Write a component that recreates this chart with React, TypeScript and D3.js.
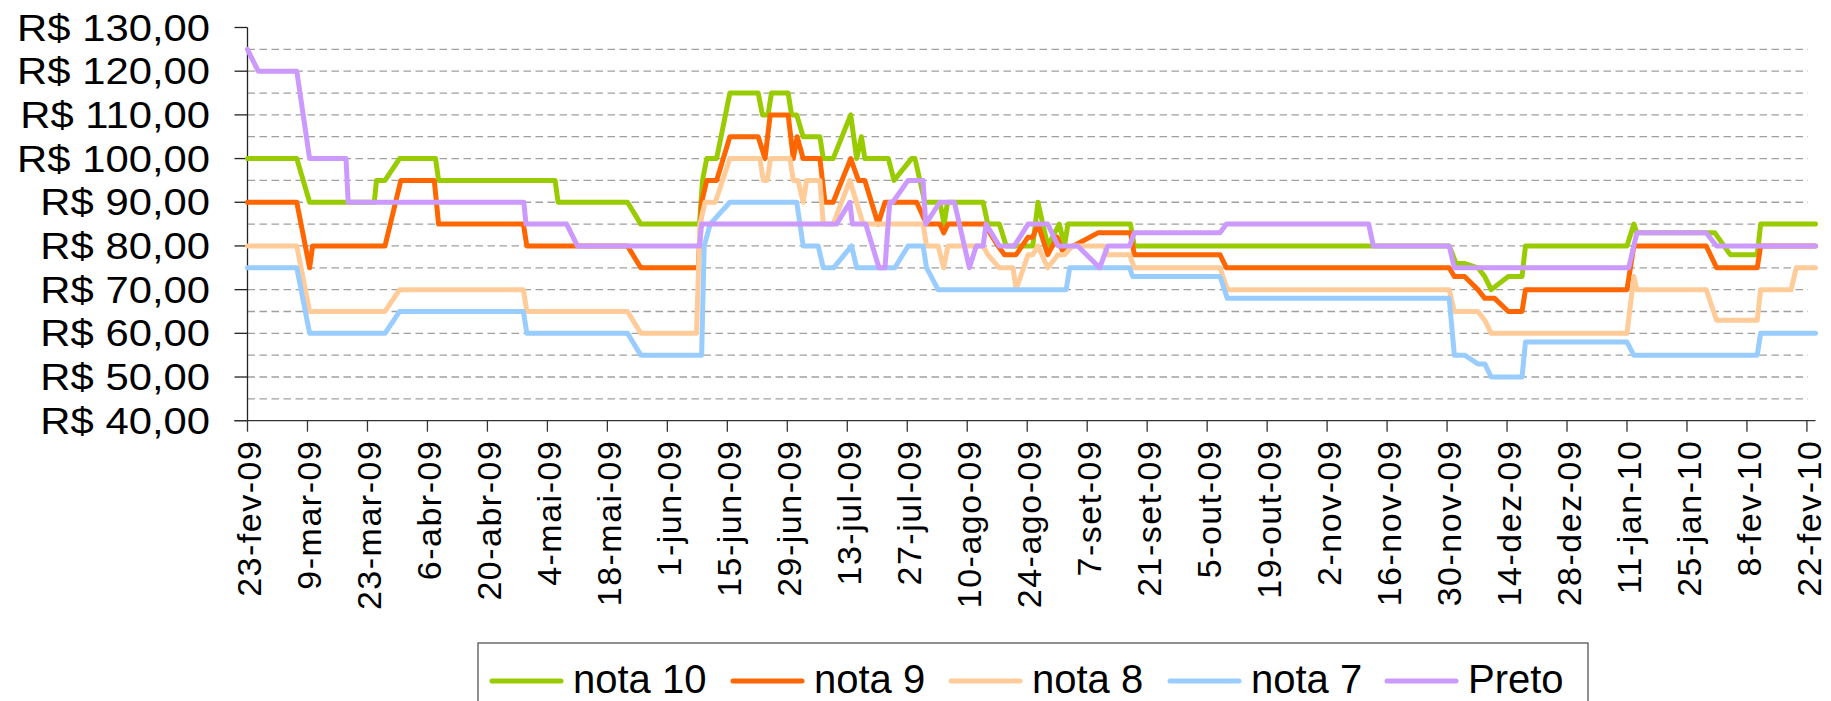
import * as d3 from "d3";

// ── Data ──────────────────────────────────────────────────────────────────────
// Days are counted from 23-fev-09; values are prices in R$.

const xTickLabels = [
  "23-fev-09", "9-mar-09", "23-mar-09", "6-abr-09", "20-abr-09", "4-mai-09",
  "18-mai-09", "1-jun-09", "15-jun-09", "29-jun-09", "13-jul-09", "27-jul-09",
  "10-ago-09", "24-ago-09", "7-set-09", "21-set-09", "5-out-09", "19-out-09",
  "2-nov-09", "16-nov-09", "30-nov-09", "14-dez-09", "28-dez-09", "11-jan-10",
  "25-jan-10", "8-fev-10", "22-fev-10",
];
const TICK_STEP_DAYS = 14;
const LAST_DAY = 366;

const yTicks = [40, 50, 60, 70, 80, 90, 100, 110, 120, 130];
const yGrid = [45, 50, 55, 60, 65, 70, 75, 80, 85, 90, 95, 100, 105, 110, 115, 120, 125];

const seriesNames = ["nota 10", "nota 9", "nota 8", "nota 7", "Preto"];
const seriesColors = ["#99CC00", "#FF6600", "#FFCC99", "#99CCFF", "#CC99FF"];

const nota10: [number, number][] = [
  [0, 100], [11.5, 100], [14.5, 90], [29.6, 90], [30.1, 95], [32.1, 95], [35.5, 100],
  [43.9, 100], [44.6, 95], [71.8, 95], [72.5, 90], [88.7, 90], [91.8, 85], [105.5, 85],
  [106.2, 95], [107.2, 100], [109.5, 100], [112.6, 115], [119.2, 115], [120.2, 110],
  [121.5, 110], [122.3, 115], [126.2, 115], [127, 110], [128.2, 110], [129.7, 105],
  [133.6, 105], [134.4, 100], [136.7, 100], [140.8, 110], [142.2, 100], [143.3, 105],
  [144.1, 100], [149.6, 100], [150.9, 95], [155, 100], [155.8, 100], [158.1, 90],
  [161.6, 90], [162.6, 85], [163.4, 90], [171.7, 90], [172.8, 85], [175.5, 85],
  [177.1, 80], [183.3, 80], [184.5, 90], [186.8, 80], [189.5, 85], [190.7, 80],
  [191.5, 85], [206.1, 85], [207, 80], [280.5, 80], [282.1, 76], [284, 76], [287.2, 75],
  [288.8, 73], [290.3, 70], [294.3, 73], [297.5, 73], [298.3, 80], [322, 80], [323.6, 85],
  [324.3, 83], [342.5, 83], [346.1, 78], [352.4, 78], [353.2, 85], [366, 85],
];

const nota9: [number, number][] = [
  [0, 90], [11.5, 90], [14.5, 75], [15.2, 80], [32.1, 80], [35.8, 95], [43.6, 95],
  [44.6, 85], [64.4, 85], [65.2, 80], [88.7, 80], [91.8, 75], [105.2, 75], [106, 90],
  [107.2, 95], [109.5, 95], [112.6, 105], [119.2, 105], [120.8, 100], [122, 110],
  [126.2, 110], [127.4, 100], [128.3, 105], [129.7, 100], [133.6, 100], [134.8, 90],
  [136.7, 90], [140.8, 100], [142.6, 95], [144.1, 95], [147.2, 85], [148.8, 90],
  [156.2, 90], [158.5, 85], [161.6, 85], [162.5, 83], [163.5, 85], [172, 85], [175.2, 80],
  [176.7, 78], [179.4, 78], [182.2, 82], [183.3, 82], [184.5, 85], [186.8, 78], [189, 82],
  [190.2, 79], [192.8, 80], [198.5, 83], [206.1, 83], [207, 78], [227, 78], [228.5, 75],
  [280.5, 75], [281.7, 73], [284.1, 73], [287.2, 70], [288.8, 68], [291.1, 68],
  [294.3, 65], [297.5, 65], [298.3, 70], [322, 70], [323.6, 80], [340.5, 80], [342.9, 75],
  [352.4, 75], [353.2, 80], [366, 80],
];

const nota8: [number, number][] = [
  [0, 80], [11.5, 80], [14.5, 65], [32.1, 65], [35.5, 70], [64.4, 70], [65.2, 65],
  [88.7, 65], [91.8, 60], [104.8, 60], [105.6, 85], [106.8, 90], [109.2, 90], [112.6, 100],
  [119.6, 100], [120.4, 95], [121.3, 95], [122.1, 100], [126.6, 100], [127.4, 95],
  [128.5, 95], [129.7, 90], [130.5, 95], [133.6, 95], [134.4, 85], [136.7, 85],
  [140.6, 95], [143.7, 85], [157.7, 85], [158.5, 80], [161.2, 80], [162.5, 75],
  [163.5, 80], [171.7, 80], [172.8, 78], [175.5, 75], [178.7, 75], [179.4, 70],
  [182.2, 78], [183.3, 78], [184.5, 80], [186.8, 75], [189.2, 78], [190.7, 78],
  [192.6, 80], [200, 80], [200.8, 78], [205.9, 78], [207, 75], [227, 75], [228.7, 70],
  [280.5, 70], [281.7, 65], [287.2, 65], [288.8, 63], [290.3, 60], [322, 60], [323.6, 73],
  [324.3, 70], [340.5, 70], [342.9, 63], [352.4, 63], [353.2, 70], [360.3, 70],
  [361.5, 75], [366, 75],
];

const nota7: [number, number][] = [
  [0, 75], [11.5, 75], [14.5, 60], [32.1, 60], [35.5, 65], [64.4, 65], [65.2, 60],
  [88.7, 60], [91.8, 55], [106, 55], [106.6, 80], [108, 85], [112.6, 90], [128.2, 90],
  [129.7, 80], [133.2, 80], [134.4, 75], [136.8, 75], [141, 80], [142.2, 75], [151.1, 75],
  [154.2, 80], [157.7, 80], [158.5, 75], [161.2, 70], [191.1, 70], [191.9, 75],
  [205.9, 75], [206.6, 73], [227, 73], [228.7, 68], [280.5, 68], [281.7, 55], [284.1, 55],
  [287.2, 53], [288.8, 53], [290.3, 50], [297.5, 50], [298.3, 58], [322, 58], [323.6, 55],
  [352.4, 55], [353.2, 60], [366, 60],
];

const preto: [number, number][] = [
  [0, 125], [2.5, 120], [11.5, 120], [14.5, 100], [23, 100], [23.5, 90], [64.5, 90],
  [65, 85], [74.5, 85], [77, 80], [105.5, 80], [106, 85], [137.5, 85], [140.6, 90],
  [141.2, 85], [144.3, 85], [147.4, 75], [148.8, 75], [149.9, 90], [150.6, 90],
  [154.2, 95], [157.7, 95], [158.3, 85], [161.6, 90], [165, 90], [168.5, 75], [170.1, 80],
  [171.7, 80], [172.4, 85], [175.5, 80], [179, 80], [182.2, 85], [186.8, 85], [189.2, 80],
  [193.8, 80], [198.9, 75], [200.8, 80], [205.9, 80], [207, 83], [227, 83], [228.5, 85],
  [261.7, 85], [262.8, 80], [280.5, 80], [281.7, 75], [322.4, 75], [324.3, 83],
  [340.5, 83], [342.9, 80], [366, 80],
];

const allSeries = [nota10, nota9, nota8, nota7, preto];

// ── Layout ────────────────────────────────────────────────────────────────────

const W = 1831;
const H = 701;
const PLOT = { left: 247.5, right: 1815.5, top: 27.5, bottom: 420.7, gridRight: 1808 };
const FONT = "Arial, 'Liberation Sans', sans-serif";
const LEGEND = { left: 478, top: 643, right: 1588, lineY: 681, textY: 693 };
const legendItemX = [492, 733, 951, 1170, 1387];

export default function App() {
  const x = d3.scaleLinear().domain([0, LAST_DAY]).range([PLOT.left, PLOT.right]);
  const y = d3.scaleLinear().domain([40, 130]).range([PLOT.bottom, PLOT.top]);

  const line = d3
    .line<[number, number]>()
    .x((d) => x(d[0]))
    .y((d) => y(d[1]));

  return (
    <svg
      width={W}
      height={H}
      style={{ position: "absolute", left: 0, top: 0, background: "#fff" }}
      fontFamily={FONT}
    >
      {/* dashed gridlines */}
      {yGrid.map((v) => (
        <line
          key={v}
          x1={PLOT.left}
          x2={PLOT.gridRight}
          y1={y(v)}
          y2={y(v)}
          stroke="#a0a0a0"
          strokeWidth={1.3}
          strokeDasharray="7.5,4.5"
        />
      ))}

      {/* y axis */}
      <line x1={PLOT.left} x2={PLOT.left} y1={PLOT.top} y2={PLOT.bottom} stroke="#222" strokeWidth={1.3} />
      {yTicks.map((v) => (
        <g key={v}>
          <line x1={PLOT.left - 13} x2={PLOT.left} y1={y(v)} y2={y(v)} stroke="#222" strokeWidth={1.3} />
          <text
            transform={`translate(210,${y(v) + 13}) scale(1.13,1)`}
            textAnchor="end"
            fontSize={37}
            fill="#000"
          >
            {`R$ ${v},00`}
          </text>
        </g>
      ))}

      {/* x axis */}
      <line x1={PLOT.left - 13} x2={PLOT.right} y1={PLOT.bottom} y2={PLOT.bottom} stroke="#333" strokeWidth={1.3} />
      {xTickLabels.map((label, i) => {
        const px = x(i * TICK_STEP_DAYS);
        return (
          <g key={label}>
            <line x1={px} x2={px} y1={PLOT.bottom} y2={PLOT.bottom + 11} stroke="#333" strokeWidth={1.3} />
            <text
              transform={`translate(${px},${PLOT.bottom + 19}) rotate(-90)`}
              textAnchor="end"
              dy="0.41em"
              fontSize={34}
              letterSpacing={1.5}
              fill="#000"
            >
              {label}
            </text>
          </g>
        );
      })}

      {/* series lines */}
      {allSeries.map((s, i) => (
        <path
          key={seriesNames[i]}
          d={line(s) ?? ""}
          fill="none"
          stroke={seriesColors[i]}
          strokeWidth={5}
          strokeLinejoin="round"
          strokeLinecap="round"
        />
      ))}

      {/* legend */}
      <rect
        x={LEGEND.left}
        y={LEGEND.top}
        width={LEGEND.right - LEGEND.left}
        height={H - LEGEND.top + 20}
        fill="#fff"
        stroke="#555"
        strokeWidth={1.3}
      />
      {seriesNames.map((name, i) => (
        <g key={name}>
          <line
            x1={legendItemX[i]}
            x2={legendItemX[i] + 69}
            y1={LEGEND.lineY}
            y2={LEGEND.lineY}
            stroke={seriesColors[i]}
            strokeWidth={5}
            strokeLinecap="round"
          />
          <text x={legendItemX[i] + 81} y={LEGEND.textY} fontSize={40} fill="#000">
            {name}
          </text>
        </g>
      ))}
    </svg>
  );
}
